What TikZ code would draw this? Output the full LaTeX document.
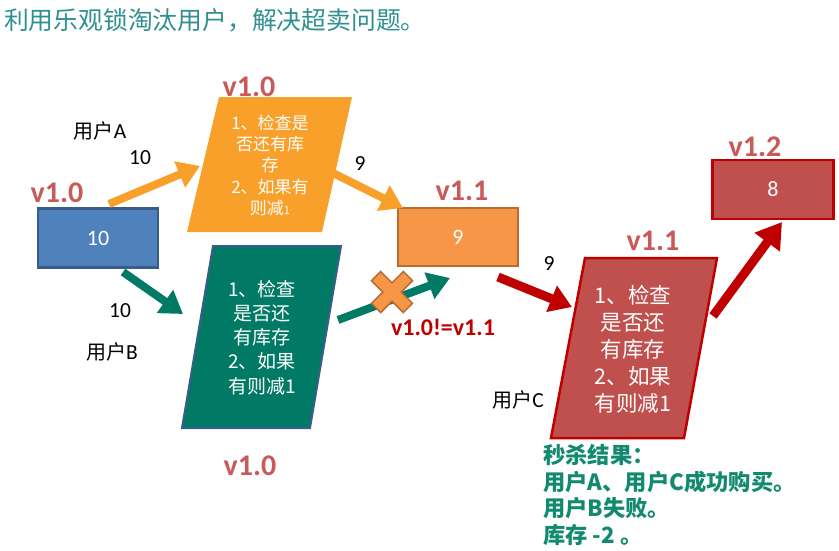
\documentclass[tikz,border=0pt]{standalone}
\usepackage{fontspec}
\setmainfont{Carlito}
\newfontfamily\cjk{Noto Sans CJK SC}
\usetikzlibrary{arrows.meta}
\definecolor{blueF}{HTML}{4F81BD}
\definecolor{blueD}{HTML}{385D8A}
\definecolor{orangeP}{HTML}{F9A02A}
\definecolor{orangeR}{HTML}{F79646}
\definecolor{orangeD}{HTML}{B66D31}
\definecolor{tealF}{HTML}{007A65}
\definecolor{tealD}{HTML}{3B5D8C}
\definecolor{redF}{HTML}{C0504D}
\definecolor{redD}{HTML}{C00000}
\definecolor{vcol}{HTML}{C85B59}
\definecolor{titlecol}{HTML}{2E9090}
\definecolor{rescol}{HTML}{128A70}
\tikzset{
  box/.style={draw, line width=2.5pt, minimum width=120pt, minimum height=59pt, inner sep=0pt,
    text=white, font=\fontsize{22}{24}\selectfont},
  vlabel/.style={text=vcol, font=\bfseries\fontsize{30}{32}\selectfont, inner sep=0pt},
  plabel/.style={text=black, font=\fontsize{21.5}{24}\selectfont, inner sep=0pt},
  fatarrow/.style={line width=8pt, -{Triangle[length=22pt,width=27pt]}},
  ptext/.style={text=white, align=center, inner sep=0pt}
}
\begin{document}
\begin{tikzpicture}[x=1pt,y=-1pt]
\useasboundingbox (0,0) rectangle (839,550);
\fill[white] (0,0) rectangle (839,550);

% title
\node[anchor=west, text=titlecol, font=\cjk\fontsize{24.8}{27}\selectfont, inner sep=0pt] (title) at (4,20) {利用乐观锁淘汰用户，解决超卖问题。};

% rectangles
\node[box, fill=blueF, draw=blueD] (b10) at (98,238) {10};
\node[box, fill=orangeR, draw=orangeD, minimum height=58pt] (b9) at (458,237) {9};
\node[box, fill=redF, draw=redD, minimum width=121pt] (b8) at (773,189.5) {8};

% parallelograms
\fill[orangeP] (219,97) -- (352,97) -- (322,232) -- (187,232) -- cycle;
\node[ptext, font=\cjk\fontsize{17}{21.3}\selectfont] (pA) at (270,165.5) {1、检查是\\否还有库\\存\\2、如果有\\则减{\fontsize{11}{21}\selectfont 1}};

\filldraw[fill=tealF, draw=tealD, line width=2pt] (213,246) -- (341,246) -- (310,428) -- (182,428) -- cycle;
\node[ptext, font=\cjk\fontsize{19}{24.2}\selectfont] (pB) at (262,337.5) {1、检查\\是否还\\有库存\\2、如果\\有则减1};

\filldraw[fill=redF, draw=redD, line width=2.5pt] (585,258) -- (717,258) -- (684,438) -- (551,438) -- cycle;
\node[ptext, font=\cjk\fontsize{21.5}{27}\selectfont] (pC) at (633,349) {1、检查\\是否还\\有库存\\2、如果\\有则减1};

% version labels
\node[vlabel] (v1) at (57,193) {v1.0};
\node[vlabel] (v2) at (249,87) {v1.0};
\node[vlabel] (v3) at (462,191) {v1.1};
\node[vlabel] (v4) at (250,466) {v1.0};
\node[vlabel] (v5) at (653,241) {v1.1};
\node[vlabel] (v6) at (755,147) {v1.2};

% user labels
\node[plabel] (uA) at (100,131) {{\cjk\fontsize{20}{24}\selectfont 用户}A};
\node[plabel] (nA) at (140,158) {10};
\node[plabel] (n9a) at (360,164) {9};
\node[plabel] (nB) at (120,311) {10};
\node[plabel] (uB) at (112,352) {{\cjk\fontsize{20}{24}\selectfont 用户}B};
\node[plabel] (n9b) at (549,264) {9};
\node[plabel] (uC) at (518,400) {{\cjk\fontsize{20}{24}\selectfont 用户}C};

% arrow coordinates
\coordinate (a1s) at (109,204); \coordinate (a1e) at (200,166);
\coordinate (a2s) at (333,173); \coordinate (a2e) at (403,208);
\coordinate (a3s) at (123,272); \coordinate (a3e) at (183,314);
\coordinate (a4s) at (338,320); \coordinate (a4e) at (450,278);
\coordinate (a5s) at (498,277); \coordinate (a5e) at (572,307);
\coordinate (a6s) at (713,316); \coordinate (a6e) at (782,222);

\draw[fatarrow, orangeP] (a1s) -- (a1e);
\draw[fatarrow, orangeP] (a2s) -- (a2e);
\draw[fatarrow, tealF] (a3s) -- (a3e);
\draw[fatarrow, tealF] (a4s) -- (a4e);
\draw[fatarrow, redD, line width=9pt] (a5s) -- (a5e);
\draw[fatarrow, redD, line width=9pt, -{Triangle[length=25pt,width=30pt]}] (a6s) -- (a6e);

% cross mark
\begin{scope}[shift={(392,292)}, rotate=45]
\filldraw[fill=orangeR, draw=orangeD, line width=1.5pt]
  (6.5,22.5) -- (6.5,6.5) -- (22.5,6.5) -- (22.5,-6.5) -- (6.5,-6.5) -- (6.5,-22.5)
  -- (-6.5,-22.5) -- (-6.5,-6.5) -- (-22.5,-6.5) -- (-22.5,6.5) -- (-6.5,6.5) -- (-6.5,22.5) -- cycle;
\end{scope}
\coordinate (xm) at (392,292);

\node[text=redD, font=\bfseries\fontsize{24}{26}\selectfont, inner sep=0pt] (neq) at (443,327) {v1.0!=v1.1};

% result
\node[anchor=north west, align=left, text=rescol, font=\cjk\bfseries\fontsize{22.3}{26.7}\selectfont, inner sep=0pt] (res) at (543,444)
  {秒杀结果：\\用户A、用户C成功购买。\\用户B失败。\\库存 -2 。};
\end{tikzpicture}
\end{document}
